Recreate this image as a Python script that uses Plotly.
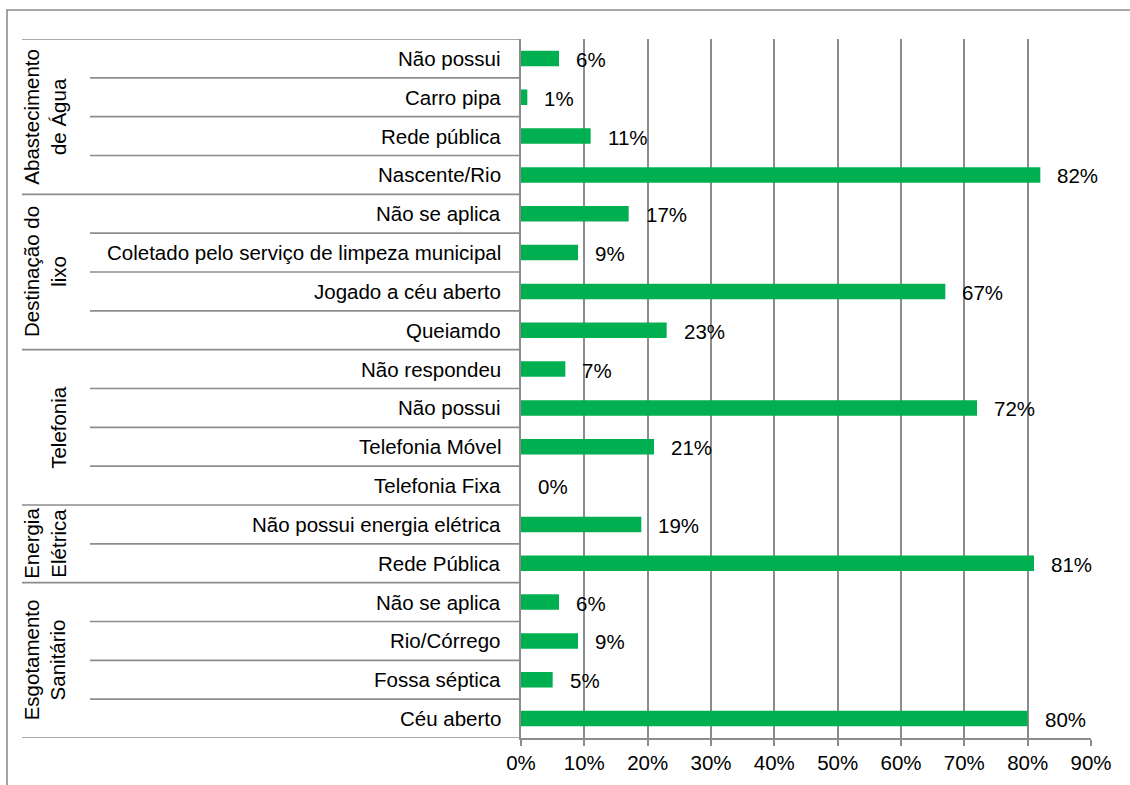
import plotly.graph_objects as go

# Survey results grouped by infrastructure theme (percent of households)
groups = [
    "Abastecimento<br>de Água",
    "Destinação do<br>lixo",
    "Telefonia",
    "Energia<br>Elétrica",
    "Esgotamento<br>Sanitário",
]

abastecimento_labels = ["Não possui", "Carro pipa", "Rede pública", "Nascente/Rio"]
abastecimento_values = [6, 1, 11, 82]

lixo_labels = ["Não se aplica", "Coletado pelo serviço de limpeza municipal",
               "Jogado a céu aberto", "Queiamdo"]
lixo_values = [17, 9, 67, 23]

telefonia_labels = ["Não respondeu", "Não possui", "Telefonia Móvel", "Telefonia Fixa"]
telefonia_values = [7, 72, 21, 0]

energia_labels = ["Não possui energia elétrica", "Rede Pública"]
energia_values = [19, 81]

esgoto_labels = ["Não se aplica", "Rio/Córrego", "Fossa séptica", "Céu aberto"]
esgoto_values = [6, 9, 5, 80]

x_ticks = [0, 10, 20, 30, 40, 50, 60, 70, 80, 90]

group_items = [
    (abastecimento_labels, abastecimento_values),
    (lixo_labels, lixo_values),
    (telefonia_labels, telefonia_values),
    (energia_labels, energia_values),
    (esgoto_labels, esgoto_values),
]

# Flatten into rows (row 0 at the top)
labels, values, group_of_row = [], [], []
for gi, (lbls, vals) in enumerate(group_items):
    labels.extend(lbls)
    values.extend(vals)
    group_of_row.extend([gi] * len(lbls))
rows = list(range(len(labels)))
n_rows = len(rows)

# Page geometry (pixels)
W, H = 1130, 785
ML, MR, MT, MB = 521, 39, 39, 47
PW = W - ML - MR
PH = H - MT - MB

def px_to_paper_x(px):
    return (px - ML) / PW

def px_to_paper_y(py):
    return 1 - (py - MT) / PH

GREEN = "#00B050"
GRAY = "#8c8c8c"
FONT = "Liberation Sans, Arial, sans-serif"
FS = 20.5

fig = go.Figure()
fig.add_trace(go.Bar(
    x=values,
    y=rows,
    orientation="h",
    width=0.4,
    marker=dict(color=GREEN, line=dict(width=0)),
    hoverinfo="skip",
))

annotations = []
# Value labels to the right of each bar
for r, v in zip(rows, values):
    annotations.append(dict(
        x=v, y=r, xref="x", yref="y", text=f"{v}%",
        showarrow=False, xanchor="left", xshift=15, yshift=-1,
        font=dict(size=FS, color="black", family=FONT),
    ))

# Category labels, right aligned against the value axis
for r, lbl in zip(rows, labels):
    annotations.append(dict(
        x=0, y=r, xref="paper", yref="y", text=lbl,
        showarrow=False, xanchor="right", xshift=-18,
        font=dict(size=FS, color="black", family=FONT),
    ))

# Rotated group labels
shapes = []
start = 0
for gi, (lbls, _) in enumerate(group_items):
    n = len(lbls)
    center = start + (n - 1) / 2
    annotations.append(dict(
        x=px_to_paper_x(72), y=center, xref="paper", yref="y",
        text=groups[gi], textangle=-90, showarrow=False,
        xanchor="right", yanchor="middle",
        font=dict(size=FS, color="black", family=FONT),
    ))
    start += n

# Row separators in the category area: long ones between groups, short inside groups
for b in range(n_rows + 1):
    is_group_edge = b == 0 or b == n_rows or group_of_row[b] != group_of_row[b - 1]
    x0 = px_to_paper_x(22) if is_group_edge else px_to_paper_x(90)
    shapes.append(dict(
        type="line", xref="paper", yref="y",
        x0=x0, x1=0, y0=b - 0.5, y1=b - 0.5,
        line=dict(color=GRAY, width=1.6),
    ))

# Chart frame
shapes.append(dict(
    type="rect", xref="paper", yref="paper",
    x0=px_to_paper_x(7), x1=px_to_paper_x(W + 20),
    y0=px_to_paper_y(H + 20), y1=px_to_paper_y(10),
    line=dict(color=GRAY, width=1.6), fillcolor="rgba(0,0,0,0)",
    layer="below",
))

fig.update_layout(
    width=W, height=H,
    margin=dict(l=ML, r=MR, t=MT, b=MB, pad=0),
    paper_bgcolor="white", plot_bgcolor="white",
    showlegend=False,
    font=dict(family=FONT, size=FS, color="black"),
    bargap=0.6,
    xaxis=dict(
        range=[0, 90], tickvals=x_ticks, ticktext=[f"{t}%" for t in x_ticks],
        showgrid=True, gridcolor=GRAY, gridwidth=1.6,
        showline=True, linecolor=GRAY, linewidth=1.6,
        ticks="outside", ticklen=6, tickcolor=GRAY, tickwidth=1.6,
        zeroline=False, fixedrange=True,
        tickfont=dict(size=FS, color="black", family=FONT),
    ),
    yaxis=dict(
        range=[n_rows - 0.5, -0.5], showticklabels=False,
        showgrid=False, zeroline=False,
        showline=True, linecolor=GRAY, linewidth=1.6,
        fixedrange=True,
    ),
    annotations=annotations,
    shapes=shapes,
)

fig.write_html("out.html")
